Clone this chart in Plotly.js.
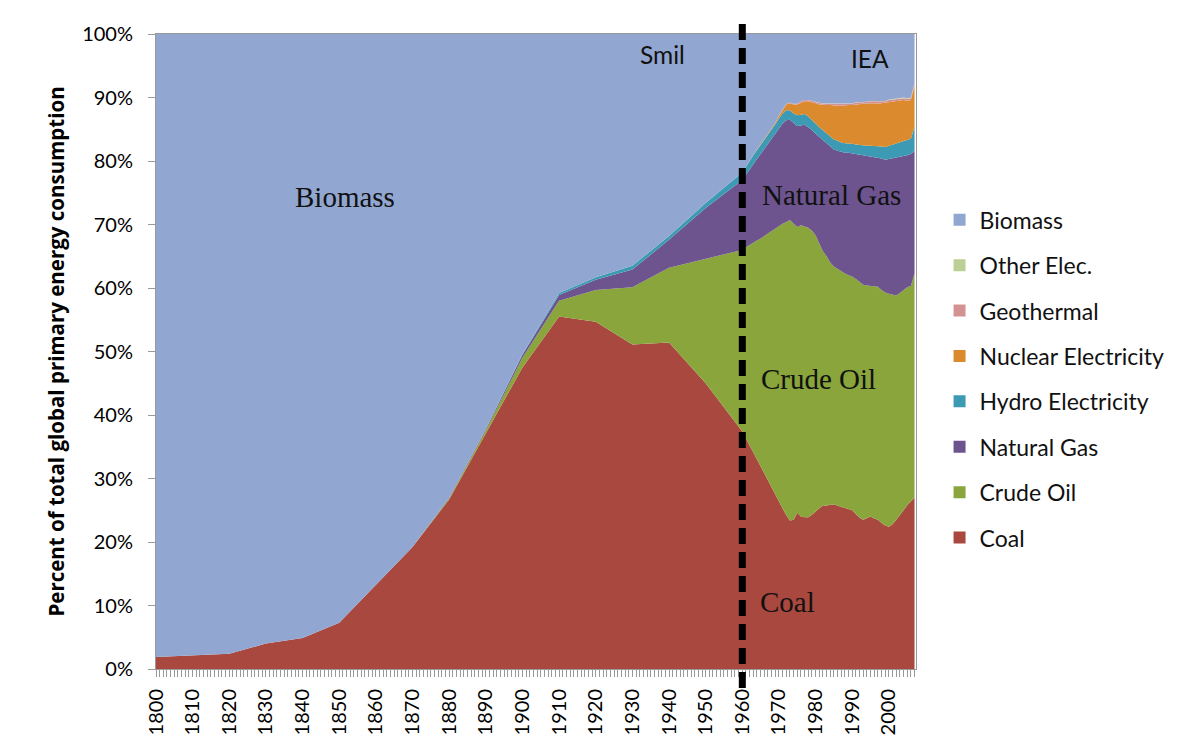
<!DOCTYPE html>
<html>
<head>
<meta charset="utf-8">
<script src="https://cdn.plot.ly/plotly-3.0.1.min.js"></script>
<style>html,body{margin:0;padding:0;background:#fff;}#chart{width:1182px;height:748px;}</style>
</head>
<body>
<div id="chart"></div>
<script>
// Years: Smil decadal data to 1950, IEA annual data from 1960
const years = [1800,1810,1820,1830,1840,1850,1860,1870,1880,1890,1900,1910,1920,1930,1940,1950,
  1960,1961,1962,1963,1964,1965,1966,1967,1968,1969,
  1970,1971,1972,1973,1974,1975,1976,1977,1978,1979,
  1980,1981,1982,1983,1984,1985,1986,1987,1988,1989,
  1990,1991,1992,1993,1994,1995,1996,1997,1998,1999,
  2000,2001,2002,2003,2004,2005,2006,2007];

const coal = [1.9,2.2,2.4,4.0,4.9,7.3,13.2,19.2,26.7,37.0,47.5,55.5,54.7,51.1,51.4,45.0,
  37.4,36.3,35.2,34.1,33.0,31.9,30.8,29.7,28.6,27.5,
  26.4,25.3,24.2,23.4,23.5,24.6,24.0,23.9,23.9,24.3,
  24.8,25.4,25.8,25.7,25.9,25.9,25.7,25.6,25.4,25.2,
  25.0,24.4,23.8,23.5,23.8,24.0,23.7,23.5,23.0,22.6,
  22.4,22.8,23.5,24.2,25.0,25.8,26.4,27.0];

const crudeOil = [0,0,0,0,0,0,0,0,0.2,0.6,1.5,2.5,5.0,9.0,11.8,19.6,
  28.6,30.1,31.6,33.0,34.5,35.9,37.4,38.9,40.4,41.9,
  43.4,44.8,46.2,47.3,46.6,45.0,45.9,45.8,45.6,44.7,
  43.5,41.6,40.0,39.3,38.1,37.5,37.3,37.0,36.9,36.8,
  36.8,37.0,37.2,37.0,36.6,36.3,36.6,36.7,36.7,36.7,
  36.7,36.1,35.3,35.0,34.7,34.3,33.9,35.3];

const naturalGas = [0,0,0,0,0,0,0,0,0.1,0.2,0.5,0.9,1.6,2.8,4.4,8.0,
  11.0,11.5,11.9,12.4,12.8,13.3,13.7,14.1,14.5,14.9,
  15.3,15.8,16.0,15.8,15.9,15.9,15.7,16.0,15.8,15.9,
  16.0,16.8,17.5,17.8,18.3,18.4,18.6,18.8,19.0,19.3,
  19.4,19.7,20.0,20.5,20.5,20.5,20.4,20.4,20.7,20.9,
  21.2,21.6,21.8,21.4,21.1,20.8,20.8,19.3];

const hydro = [0,0,0,0,0,0,0,0,0,0,0.1,0.3,0.4,0.6,0.6,0.8,
  1.2,1.3,1.3,1.4,1.4,1.4,1.5,1.5,1.5,1.5,
  1.6,1.6,1.6,1.5,1.5,1.7,1.7,1.7,1.7,1.6,
  1.6,1.5,1.5,1.6,1.6,1.6,1.6,1.5,1.5,1.5,
  1.5,1.5,1.5,1.5,1.5,1.6,1.7,1.7,1.9,2.0,
  2.1,2.1,2.2,2.4,2.4,2.4,2.4,3.8];

const nuclear = [0,0,0,0,0,0,0,0,0,0,0,0,0,0,0,0,
  0,0,0.05,0.05,0.1,0.1,0.1,0.15,0.2,0.2,
  0.4,0.6,0.9,1.1,1.4,1.7,1.9,2.0,2.4,2.8,
  3.2,3.6,4.0,4.4,4.9,5.3,5.5,5.8,6.0,6.0,
  6.1,6.3,6.4,6.5,6.6,6.7,6.7,6.7,6.8,6.9,
  6.9,6.8,6.7,6.5,6.4,6.2,6.1,6.5];

const geothermal = [0,0,0,0,0,0,0,0,0,0,0,0,0,0,0,0,
  0,0,0,0,0,0,0,0,0,0,
  0.1,0.1,0.1,0.1,0.1,0.1,0.2,0.2,0.2,0.2,
  0.2,0.2,0.2,0.2,0.2,0.2,0.2,0.2,0.2,0.2,
  0.2,0.3,0.3,0.3,0.3,0.3,0.3,0.3,0.3,0.3,
  0.3,0.3,0.3,0.3,0.3,0.3,0.3,0.3];

const otherElec = [0,0,0,0,0,0,0,0,0,0,0,0,0,0,0,0,
  0,0,0,0,0,0,0,0,0,0,
  0,0,0,0,0,0,0,0,0,0,
  0.05,0.05,0.05,0.05,0.05,0.05,0.05,0.05,0.05,0.05,
  0.05,0.05,0.05,0.05,0.05,0.05,0.05,0.05,0.05,0.05,
  0.1,0.1,0.1,0.1,0.1,0.1,0.1,0.1];

const biomass = [98.1,97.8,97.6,96.0,95.1,92.7,86.8,80.8,73.0,62.2,50.4,40.8,38.3,36.5,31.8,26.6,
  21.8,20.8,19.95,19.05,18.2,17.4,16.5,15.65,14.8,14.0,
  12.8,11.8,11.0,10.8,11.0,11.0,10.6,10.4,10.4,10.5,
  10.65,10.85,10.95,10.95,10.95,11.05,11.05,11.05,10.95,10.95,
  10.95,10.75,10.75,10.65,10.65,10.55,10.55,10.65,10.55,10.55,
  10.3,10.2,10.1,10.1,10.0,10.1,10.0,7.7];

const seriesNames = ['Coal','Crude Oil','Natural Gas','Hydro Electricity','Nuclear Electricity','Geothermal','Other Elec.','Biomass'];
const seriesData = [coal, crudeOil, naturalGas, hydro, nuclear, geothermal, otherElec, biomass];
const seriesColors = ['#A9483F','#89A53B','#6D548E','#3D9AB4','#DB8A2D','#D49393','#BCD096','#91A7D1'];

const yTickVals = [0,10,20,30,40,50,60,70,80,90,100];
const yTickText = ['0%','10%','20%','30%','40%','50%','60%','70%','80%','90%','100%'];
const xTickVals = [1800,1810,1820,1830,1840,1850,1860,1870,1880,1890,1900,1910,1920,1930,1940,1950,1960,1970,1980,1990,2000];

const traces = [];
seriesNames.forEach((name, i) => {
  traces.push({
    type: 'scatter', mode: 'lines', x: years, y: seriesData[i], name: name,
    stackgroup: 'one', line: {width: 0, color: seriesColors[i]}, fillcolor: seriesColors[i],
    showlegend: false, hoverinfo: 'x+y+name'
  });
});
// legend entries with square swatches (top of stack listed first)
for (let i = seriesNames.length - 1; i >= 0; i--) {
  traces.push({
    type: 'scatter', mode: 'markers', x: [null], y: [null], name: seriesNames[i],
    legendgroup: 'g' + (seriesNames.length - 1 - i),
    marker: {symbol: 'square', size: 13, color: seriesColors[i]},
    showlegend: true
  });
}

const annFont = {family: 'Liberation Serif, DejaVu Serif, serif', size: 29, color: '#111'};
const tagFont = {family: 'Lato, sans-serif', size: 24.5, color: '#111'};
const layout = {
  width: 1182, height: 748,
  margin: {l: 156, r: 264, t: 34, b: 79},
  paper_bgcolor: '#ffffff', plot_bgcolor: '#ffffff',
  font: {family: 'Lato, Open Sans, sans-serif', color: '#111'},
  showlegend: true,
  legend: {
    x: 1.031, xanchor: 'left', y: 0.457, yanchor: 'middle',
    traceorder: 'grouped', tracegroupgap: 12.5,
    font: {family: 'Lato, sans-serif', size: 23, color: '#111'},
    itemsizing: 'constant', bgcolor: 'rgba(0,0,0,0)'
  },
  xaxis: {
    type: 'linear', range: [1800, 2007.4], tickmode: 'array', tickvals: xTickVals,
    tickangle: -90, tickfont: {family: 'Lato, sans-serif', size: 20, color: '#000'},
    ticklabelstandoff: 4,
    ticks: 'outside', ticklen: 7, tickcolor: '#999', tickwidth: 1,
    minor: {dtick: 1, ticks: 'outside', ticklen: 7, tickcolor: '#999', tickwidth: 1},
    showline: true, linecolor: '#999', linewidth: 1, mirror: true,
    showgrid: false, zeroline: false, fixedrange: true
  },
  yaxis: {
    range: [0, 100], tickmode: 'array', tickvals: yTickVals, ticktext: yTickText,
    tickfont: {family: 'Lato, sans-serif', size: 20, color: '#000'},
    ticklabelstandoff: 11,
    ticks: 'outside', ticklen: 7, tickcolor: '#999',
    showline: true, linecolor: '#999', linewidth: 1, mirror: true,
    showgrid: false, zeroline: false, fixedrange: true,
    title: {text: 'Percent of total global primary energy consumption',
      font: {family: 'Open Sans, sans-serif', size: 20.5, color: '#000', weight: 'bold'}, standoff: 11}
  },
  shapes: [
    {type: 'line', xref: 'x', yref: 'paper', x0: 1960, x1: 1960, y0: -0.03, y1: 1.022,
     line: {color: '#000', width: 7, dash: '16px,8px'}}
  ],
  annotations: [
    {text: 'Biomass', x: 1851.5, y: 74.3, xref: 'x', yref: 'y', showarrow: false, font: annFont},
    {text: 'Natural Gas', x: 1984.3, y: 74.7, xref: 'x', yref: 'y', showarrow: false, font: annFont},
    {text: 'Crude Oil', x: 1980.7, y: 45.7, xref: 'x', yref: 'y', showarrow: false, font: annFont},
    {text: 'Coal', x: 1972.3, y: 10.5, xref: 'x', yref: 'y', showarrow: false, font: annFont},
    {text: 'Smil', x: 1938.2, y: 96.7, xref: 'x', yref: 'y', showarrow: false, font: tagFont},
    {text: 'IEA', x: 1994.9, y: 96.2, xref: 'x', yref: 'y', showarrow: false, font: tagFont}
  ]
};

Plotly.newPlot('chart', traces, layout, {displayModeBar: false, staticPlot: true});
</script>
</body>
</html>
